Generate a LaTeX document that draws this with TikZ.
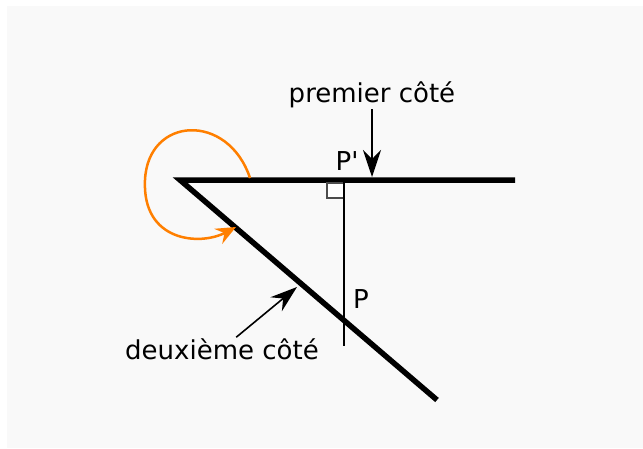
\documentclass[tikz,border=0pt]{standalone}
\usepackage{fontspec}
\setmainfont{DejaVu Sans}[Ligatures=TeXOff]
\usetikzlibrary{arrows.meta,calc}
\definecolor{bg-gray}{HTML}{F9F9F9}
\definecolor{arc-orange}{HTML}{FF7F00}

\begin{document}
\begin{tikzpicture}[x=1pt,y=-1pt,
  lbl/.style={font=\fontsize{26}{30}\selectfont,inner sep=1pt},
  side/.style={line width=5.5pt},
  pointer/.style={-{Stealth[length=27pt,width=18pt,inset=9pt]},line width=1.6pt}]
  \useasboundingbox (0,0) rectangle (643,448);
  \fill[bg-gray] (7,6) rectangle (643,448);
  % the two sides of the angle
  \coordinate (O) at (180,180);
  \coordinate (A) at (515,180);
  \coordinate (B) at (437,400);
  \draw[side,line join=miter] (A) -- (O) -- (B);
  % perpendicular from P down to the first side
  \coordinate (Pp) at (344,180);
  \coordinate (Pe) at (344,346);
  \draw[line width=1.2pt,gray!60!black,fill=white] (344,183) -- (327,183) -- (327,198) -- (344,198);
  \draw[line width=1.8pt] (Pp) -- (Pe);
  \node[lbl] (labelPp) at (347,161) {P'};
  \node[lbl] (labelP) at (361,299) {P};
  % labels for the sides
  \coordinate (tipA) at (372,177);
  \coordinate (tipB) at (297,287);
  \node[lbl] (premier) at (372,95) {premier côté};
  \node[lbl] (deuxieme) at (222,349) {deuxième côté};
  \draw[pointer] (premier) -- (tipA);
  \draw[pointer] (deuxieme) -- (tipB);
  % orange turn from the first side to the second
  \draw[arc-orange,line width=2.5pt,-{Stealth[length=20pt,width=17pt,inset=7pt]}]
    (250,178) .. controls (228,112) and (148,116) .. (145,180)
    .. controls (142,242) and (200,246) .. (236,227);
\end{tikzpicture}
\end{document}
